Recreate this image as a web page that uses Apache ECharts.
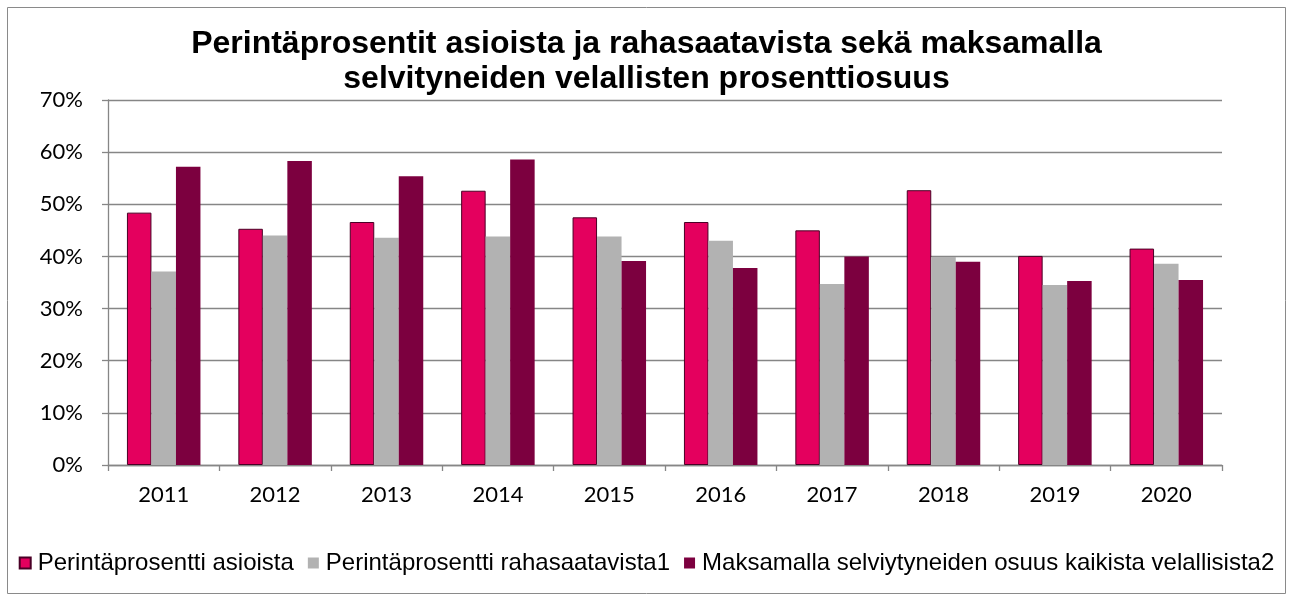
<!DOCTYPE html>
<html>
<head>
<meta charset="utf-8">
<script src="https://cdn.jsdelivr.net/npm/echarts@6/dist/echarts.min.js"></script>
<style>
  html, body { margin: 0; padding: 0; background: #fff; }
  #chart { width: 1293px; height: 601px; }
</style>
</head>
<body>
<div id="chart"></div>
<script>
  // vuodet
  var years = ['2011', '2012', '2013', '2014', '2015', '2016', '2017', '2018', '2019', '2020']
  // prosentit
  var asioista = [48.4, 45.3, 46.6, 52.6, 47.5, 46.6, 45.0, 52.7, 40.1, 41.5]
  var rahasaatavista = [37.1, 44.0, 43.6, 43.8, 43.8, 43.0, 34.7, 39.9, 34.5, 38.6]
  var maksamalla = [57.2, 58.3, 55.4, 58.6, 39.1, 37.8, 40.0, 39.0, 35.3, 35.5]
  var seriesNames = ['Perintäprosentti asioista', 'Perintäprosentti rahasaatavista1', 'Maksamalla selviytyneiden osuus kaikista velallisista2']

  var myChart = echarts.init(document.getElementById('chart'))
  var gridColor = '#868686'
  var option = {
    animation: false,
    color: ['#e4005e', '#b2b2b2', '#7c003f'],
    title: {
      text: 'Perintäprosentit asioista ja rahasaatavista sekä maksamalla\nselvityneiden velallisten prosenttiosuus',
      left: 'center',
      top: 27,
      padding: 0,
      textStyle: {
        fontFamily: 'Liberation Sans',
        fontSize: 32,
        fontWeight: 'bold',
        color: '#000',
        lineHeight: 35
      }
    },
    graphic: [{
      type: 'rect',
      shape: { x: 7.5, y: 7.5, width: 1278, height: 586 },
      style: { fill: 'none', stroke: '#8a8a8a', lineWidth: 1 },
      silent: true
    }],
    legend: {
      data: seriesNames,
      left: 'center',
      top: 551,
      padding: 0,
      itemWidth: 11,
      itemHeight: 11,
      itemGap: 14,
      icon: 'rect',
      textStyle: {
        fontFamily: 'Liberation Sans',
        fontSize: 24,
        color: '#000',
        padding: [0, 0, 0, 2]
      }
    },
    grid: {
      left: 108,
      right: 71,
      top: 100,
      bottom: 136,
      containLabel: false
    },
    xAxis: {
      type: 'category',
      data: years,
      axisLine: { lineStyle: { color: gridColor, width: 1.3 } },
      axisTick: { show: true, length: 6, lineStyle: { color: gridColor, width: 1.3 } },
      axisLabel: {
        fontFamily: 'Lato',
        fontSize: 22,
        color: '#000',
        margin: 19
      }
    },
    yAxis: {
      type: 'value',
      min: 0,
      max: 70,
      interval: 10,
      axisLine: { show: true, lineStyle: { color: gridColor, width: 1.3 } },
      axisTick: { show: true, inside: false, length: 6, lineStyle: { color: gridColor, width: 1.3 } },
      splitLine: { lineStyle: { color: gridColor, width: 1.3 } },
      axisLabel: {
        formatter: '{value}%',
        fontFamily: 'Lato',
        fontSize: 22,
        color: '#000',
        margin: 25
      }
    },
    series: [
      {
        name: seriesNames[0],
        type: 'bar',
        barWidth: 24.5,
        barGap: '0%',
        data: asioista,
        itemStyle: { borderColor: '#4a0026', borderWidth: 1 }
      },
      {
        name: seriesNames[1],
        type: 'bar',
        barWidth: 24.5,
        barGap: '0%',
        data: rahasaatavista
      },
      {
        name: seriesNames[2],
        type: 'bar',
        barWidth: 24.5,
        barGap: '0%',
        data: maksamalla
      }
    ]
  }
  myChart.setOption(option)
</script>
</body>
</html>
